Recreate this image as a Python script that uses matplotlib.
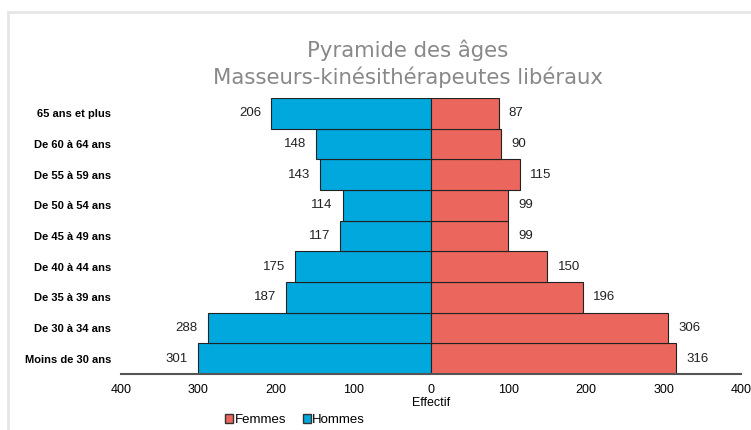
import numpy as np
import matplotlib.pyplot as plt
from matplotlib.lines import Line2D
from matplotlib.patches import Patch

# Donnees
ages = ['Moins de 30 ans', 'De 30 à 34 ans', 'De 35 à 39 ans', 'De 40 à 44 ans',
        'De 45 à 49 ans', 'De 50 à 54 ans', 'De 55 à 59 ans', 'De 60 à 64 ans',
        '65 ans et plus']
hommes = [301, 288, 187, 175, 117, 114, 143, 148, 206]
femmes = [316, 306, 196, 150, 99, 99, 115, 90, 87]
ticks = [-400, -300, -200, -100, 0, 100, 200, 300, 400]

bleu = '#00A8DE'
rouge = '#EB665C'

fig = plt.figure(figsize=(7.51, 4.30), dpi=100)
ax = fig.add_axes([0.161, 0.130, 0.826, 0.642])

y = np.arange(len(ages))
ax.barh(y, [-h for h in hommes], height=1.0, color=bleu, edgecolor='#222222', linewidth=0.8)
ax.barh(y, femmes, height=1.0, color=rouge, edgecolor='#222222', linewidth=0.8)

for i in range(len(ages)):
    ax.text(-hommes[i] - 13, y[i], str(hommes[i]), ha='right', va='center',
            fontsize=9.5, family='Liberation Sans', color='#222222')
    ax.text(femmes[i] + 13, y[i], str(femmes[i]), ha='left', va='center',
            fontsize=9.5, family='Liberation Sans', color='#222222')

ax.set_xlim(-400, 400)
ax.set_ylim(-0.5, 8.5)
ax.set_xticks(ticks)
ax.set_xticklabels([str(abs(t)) for t in ticks], family='Liberation Sans', fontsize=9)
ax.set_yticks(y)
ax.set_yticklabels(ages, family='Liberation Sans', fontweight='bold', fontsize=8)
ax.tick_params(axis='both', length=0)
ax.tick_params(axis='x', pad=7)
ax.tick_params(axis='y', pad=7)
for s in ['top', 'right', 'left']:
    ax.spines[s].set_visible(False)
ax.spines['bottom'].set_color('#555555')
ax.spines['bottom'].set_linewidth(1.5)

ax.set_xlabel('Effectif', family='Liberation Sans', fontsize=9, labelpad=1)

fig.text(0.543, 0.882, 'Pyramide des âges', ha='center', va='center',
         fontsize=15.3, color='#888888', family='DejaVu Sans')
fig.text(0.543, 0.820, 'Masseurs-kinésithérapeutes libéraux', ha='center', va='center',
         fontsize=15.3, color='#888888', family='DejaVu Sans')

handles = [Patch(facecolor=rouge, edgecolor='#333333', label='Femmes'),
           Patch(facecolor=bleu, edgecolor='#333333', label='Hommes')]
fig.legend(handles=handles, loc='center', bbox_to_anchor=(0.393, 0.023), ncol=2,
           frameon=False, prop={'family': 'Liberation Sans', 'size': 9.5},
           handlelength=0.6, handleheight=0.6, handletextpad=0.1, columnspacing=1.25)

# cadre gris
fig.add_artist(Line2D([0.011, 0.011], [0, 0.973], color='#e6e6e6', lw=2))
fig.add_artist(Line2D([0.011, 1.0], [0.973, 0.973], color='#e6e6e6', lw=2))

fig.savefig('out.png', dpi=100)
